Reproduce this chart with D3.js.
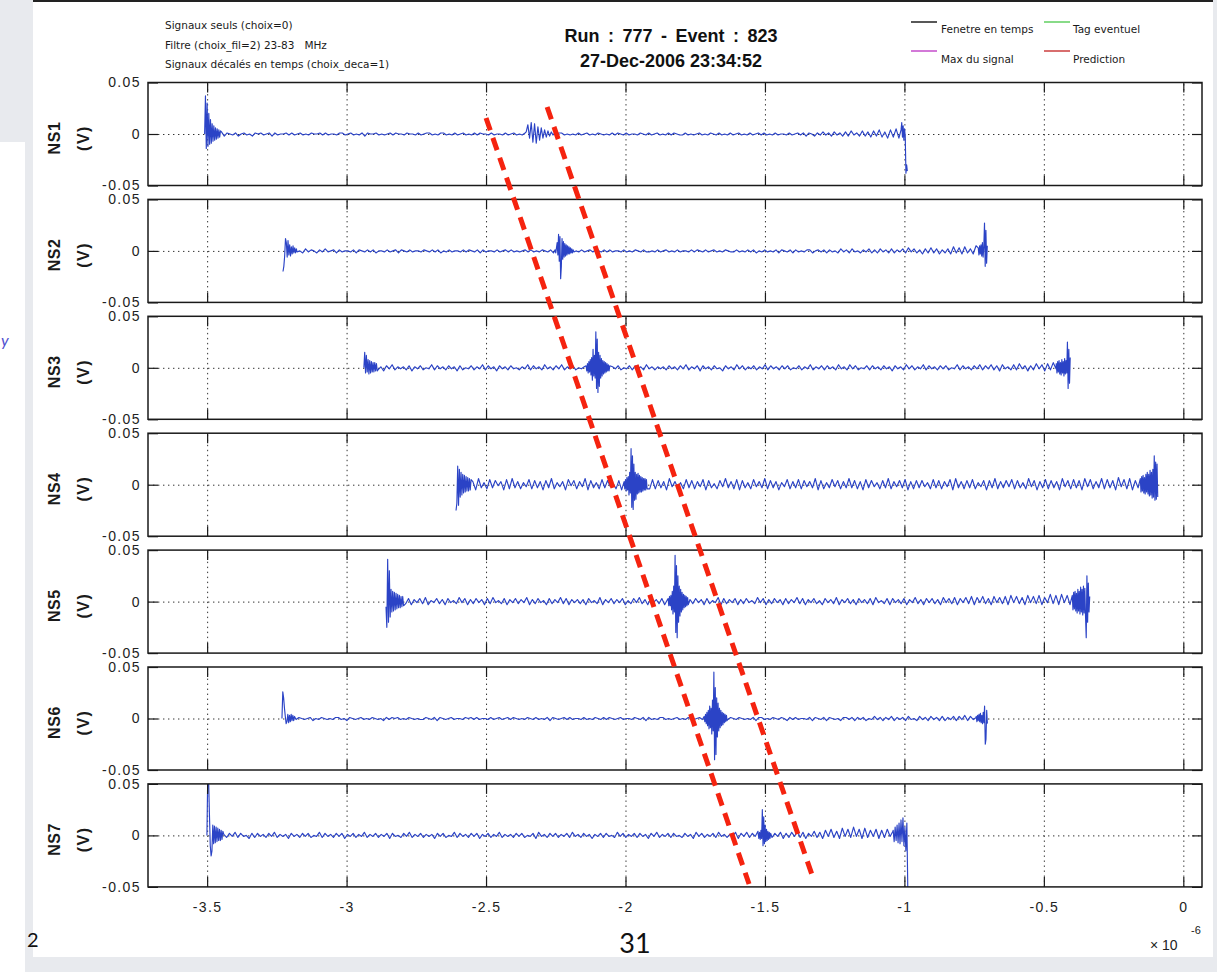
<!DOCTYPE html>
<html>
<head>
<meta charset="utf-8">
<script src="https://cdn.jsdelivr.net/npm/d3@7"></script>
<style>
  html, body { margin: 0; padding: 0; background: #e8eaee; }
  svg { display: block; }
  text { white-space: pre; }
</style>
</head>
<body>
<svg id="fig" width="1217" height="972"></svg>
<script>
// ---- axes ----
const stations = ["NS1", "NS2", "NS3", "NS4", "NS5", "NS6", "NS7"];
const xTicks = [-3.5, -3, -2.5, -2, -1.5, -1, -0.5, 0];          // x 1e-6 s
const xTickLabels = ["-3.5", "-3", "-2.5", "-2", "-1.5", "-1", "-0.5", "0"];
const yTicks = [-0.05, 0, 0.05];                                  // V
const yTickLabels = ["-0.05", "0", "0.05"];
const xDomain = [-3.712, 0.067];
const yDomain = [-0.05, 0.05];

// ---- recorded traces ----
// time window of each antenna trace (x 1e-6 s)
const windowStart = [-3.509, -3.228, -2.938, -2.6076, -2.8587, -3.2317, -3.5007];
const windowEnd   = [-0.9895, -0.7028, -0.4055, -0.0917, -0.3356, -0.7025, -0.9807];

// background samples in mV, evenly spread over the window;
// one character per sample: '0'..'9' = 0..9 mV, 'a'..'i' = -1..-9 mV
const noiseNS1 =
  "0b2a1a2b10" + "a1b01a0b10" + "1a01b1a001" + "a1a01a0a10" + "01a1a00a11" +
  "a01a0a1b10" + "01a0a01a10" + "0a100a1a01" + "1a0a11a0a1" + "a01a0a1a10" +
  "0a1a00a1a0" + "1a0a10a01a" + "a01a0a11a0" + "a0a1a01a0a" + "10a0a1a10a" +
  "1a00a10a1a" + "01a0a1a10a" + "a1a0a01a0a" + "10a1a0a1a0" + "1a0a1a01a1" +
  "a0a1a00a1a" + "01a1b10b1a" + "2a1b2a1b2b" + "3a1b3b2c3b" + "4c2d4c5d3c" + "5";
const noiseNS2 =
  "0a2b1a0b2a" + "10b1a2a01b" + "1a00a1b10a" + "1a1b00a1a0" + "1b10a1a00a" +
  "10a1a1b0a1" + "a00a1a10a1" + "b1a00a1a01" + "a1a0a01a1a" + "0a10a1b1a0" +
  "0a1a0a1a01" + "a10a1a1a00" + "a1a0a10a1a" + "a0a1a01a0a" + "1a00a1a10a" +
  "1a01a0a10a" + "a1a0a1a1b0" + "a1a0a1b10a" + "1b1a0a11b0" + "1a1b1a0b2a" +
  "1b2a0b1a2b" + "1b2a1b2b1a" + "2b3a2b1c2b" + "3b2c1b2c4b" + "3c4b2c5b4c" + "3";
const noiseNS3 =
  "2b3a1b1c2a" + "3b1a1b2c1a" + "2b0a3b2a1b" + "2a1c2b0a2b" + "1a3b2a1c2a" +
  "1b2a0b1a3b" + "2a1b3a1b2a" + "3b1a2b0a1b" + "2a1b3a2b1a" + "2b0a2b2a1b" +
  "3a1b1a1b2a" + "1b2a3b1a2c" + "2a1b2a0c2a" + "1b3a2b1a2b" + "1a3b2a1b2a" +
  "2b0a2b1a3b" + "1a2b2a1b3a" + "1b3a2b0a2b" + "2a1b2a1c2a" + "1b3a2b1a3b" +
  "2a1b2a2b0a" + "3b2a1b2a3b" + "2a3b2c3a1b" + "3b4a2c2b4a" + "3c4b5a4c3b" + "4";
const noiseNS4 =
  "4c1d5b3e6c" + "2d5c4a3e5d" + "6c3d2b5d4c" + "3e4c6d2b3e" + "5a4d3b6e4c" +
  "2d5c4b1d4e" + "6c3d5a4b2d" + "5d4c3e6b3c" + "2d5c4d3b5e" + "4c1d4b6c3d" +
  "5e4c2d5b3c" + "6d4c3e2b5d" + "3c5d4b3c6e" + "4d2c5b4d3c" + "6c4d3e5c4b" +
  "2d4c6d3b4c" + "5e3d4c4b2d" + "5c4d3b5e6c" + "3d4c5d2b4e" + "4c6d3c4b5d" +
  "4c2d6b4e3c" + "5d4c3e6b4d" + "5c4e6b5d3c" + "6d5c4e7b5d" + "6e4c7d6b5e" + "6";
const noiseNS5 =
  "3b2c4a1b3c" + "2a3b4c1a3b" + "2c3a1b4a3c" + "2b3a2c3b4a" + "1b3c2a3b2a" +
  "4c2b3a1c3b" + "2a4b3c2a2b" + "2c3a1b4c2a" + "3b2a3c1b3a" + "4b2c3a2b3c" +
  "2a3b1c4a2b" + "3a2c3b1a4c" + "3b2a3c2b3a" + "1b4a3c2b3a" + "2c3b2a4b3c" +
  "2a3b1c3a2b" + "4c2a3b2c3a" + "2b3c4a1b3c" + "3a2b3c2a4b" + "2c3a3b2c4a" +
  "3b4c3a4b5c" + "4a5b3c5a4b" + "5c6a5b4c6a" + "5b6c4a7b6c" + "7a6c7b8a7c" + "8";
const noiseNS6 =
  "1a1a0a10a0" + "1b0a10a0a1" + "1a0b10a01a" + "0a10a0b1a1" + "01a0a10a0a" +
  "a10a1b10a0" + "1a00a101a1" + "a00a1a01a0" + "1a10a0a10a" + "1a0a1b10a0" +
  "1a1a00a1a0" + "a10a1a10a0" + "1a00a10a1b" + "1a0a11a0a0" + "1a0a10a01a" +
  "1b1a00a1a1" + "0a10a0a1b1" + "1a0a10a10b" + "1a1a00a1b1" + "0a1b10a0b1" +
  "1a1b1a1b0a" + "2a1b1a2b1a" + "1b2a0b2a1b" + "2a1b2b1a2b" + "2a3b2a1b3a" + "2";
const noiseNS7 =
  "2b3a1c1b2a" + "3b2a0c2b2a" + "1b2a3b1a1c" + "2a1b2a2b0a" + "3b2a1b2a2c" +
  "1a2b1a3b1a" + "2b1a2c2a0b" + "2a3b1a2b1a" + "1c2a2b0a3b" + "2a1b2a2c1a" +
  "2b1a3b1a1b" + "2a2b0a2c3a" + "1b2a2b1a2b" + "3a1b2a1c1a" + "2b2a0b3a2b" +
  "1a2b2a1c2a" + "3b1a2b2a0b" + "2a1c3a2b1a" + "2b3a1b1a3c" + "2a3b2a4b3a" +
  "3b2a3c2b3a" + "4b3c2a4b3c" + "5a6b4c7a6b" + "8a6c7b5a6c" + "5b6a4c5b6a" + "5";
const noise = [noiseNS1, noiseNS2, noiseNS3, noiseNS4, noiseNS5, noiseNS6, noiseNS7];

// sharp pulses (start, shower signal, end): first sample time, step (x 1e-6 s), values (mV)
const burstsNS1 = [
  { t0: -3.509, dt: 0.003, v: [0, 37, -14, 30, -12, 20, -10, 14, -9, 10, -7, 8, -6, 6, -5, 5, -4, 4, -3, 3] },
  { t0: -2.356, dt: 0.006, v: [2, 9, -4, 11, -8, 10, -9, 7, -6, 6, -4, 4, -3, 3, -2, 2, -1] },
  { t0: -1.012, dt: 0.0025, v: [4, 11, -3, 8, -6, 5, -2, -38, -30, -36] }
];
const burstsNS2 = [
  { t0: -3.228, dt: 0.003, v: [-20, -15, -5, 12, 8, -6, 10, -4, 6, -5, 4, -3, 5, -2, 3, -2, 2] },
  { t0: -2.2525, dt: 0.0025, v: [1, -2, 3, 8, -4, 16, -10, 14, -27, -15, 12, -8, 9, -6, 7, -5, 6, -4, 5, -3, 4, -3, 3, -2, 2, -2, 1, -1] },
  { t0: -0.7353, dt: 0.0025, v: [3, -4, 5, -3, 6, -5, 8, -6, 4, 27, -15, 20, -12, 5] }
];
const burstsNS3 = [
  { t0: -2.938, dt: 0.003, v: [0, 15, -5, 12, -4, 8, -6, 7, -5, 6, -4, 5, -4, 5, -3, 4, -3] },
  { t0: -2.1413, dt: 0.0025, v: [2, -3, 4, -5, 6, -4, 8, -7, 10, -12, 18, -8, 12, -10, 35, -20, 28, -24, 15, -18, 12, -10, 9, -8, 7, -6, 6, -5, 5, -4, 4, -3, 3, -3, 2] },
  { t0: -0.4555, dt: 0.0025, v: [4, -5, 6, -4, 7, -6, 5, -7, 8, -5, 6, -8, 9, -6, 7, -5, 25, -20, 18, -15, 10] }
];
const burstsNS4 = [
  { t0: -2.6076, dt: 0.003, v: [-25, -18, 18, -20, 15, -12, 12, -10, 10, -8, 9, -7, 8, -6, 7, -6, 6, -5, 5] },
  { t0: -2.005, dt: 0.0025, v: [3, -4, 5, -6, 7, -5, 8, -10, 12, -8, 35, -22, 28, -24, 20, -15, 12, -14, 10, -9, 11, -8, 9, -7, 8, -7, 7, -6, 6, -5, 6, -5, 5, -4] },
  { t0: -0.1542, dt: 0.0025, v: [6, -7, 8, -6, 9, -8, 7, -9, 10, -7, 12, -9, 10, -11, 14, -10, 12, -13, 15, -12, 28, -15, 22, -14, 20, -12] }
];
const burstsNS5 = [
  { t0: -2.8587, dt: 0.003, v: [-5, -25, 41, -20, 30, -15, 12, -10, 10, -9, 9, -8, 8, -7, 7, -6, 6, -6, 5, -5, 5, -4] },
  { t0: -1.8472, dt: 0.0025, v: [3, -4, 5, -4, 6, -8, 10, -12, 15, -10, 45, -30, 35, -35, 25, -20, 15, -14, 12, -10, 9, -8, 7, -6, 6, -5, 5, -4, 4, -3] },
  { t0: -0.3981, dt: 0.0025, v: [6, -8, 9, -7, 10, -9, 8, -11, 12, -9, 10, -12, 14, -10, 12, -13, 15, -11, 13, -14, -35, 25, -20, 18, -10, 5] }
];
const burstsNS6 = [
  { t0: -3.2317, dt: 0.003, v: [0, 26, 20, 10, 2, -5, -3, 4, -4, 3, -3, 4, -2, 3, -2, 2] },
  { t0: -1.7181, dt: 0.0025, v: [2, -3, 4, -5, 6, -7, 8, -10, 12, -9, 10, -15, 18, -12, 45, -40, 30, -35, 20, -18, 15, -12, 10, -9, 8, -7, 6, -6, 5, -4, 4, -3, 3, -2] },
  { t0: -0.7425, dt: 0.0025, v: [2, -3, 3, -2, 4, -3, 5, -4, 3, -5, 6, -4, 12, -25, -20, 8, -5] }
];
const burstsNS7 = [
  { t0: -3.5007, dt: 0.003, v: [0, 60, 55, 20, -10, -20, -15, 10, -8, 9, -7, 8, -6, 7, -5, 6, -5, 5, -4, 4] },
  { t0: -1.5244, dt: 0.0025, v: [2, -3, 3, -4, 5, -3, 25, -10, 18, -8, 10, -6, 6, -5, 4, -4, 3, -3, 2] },
  { t0: -1.0402, dt: 0.0035, v: [5, -6, 8, -5, 10, -7, 12, -8, 15, -6, 17, -10, 8, -15, 12, -55, -60, -58] }
];
const bursts = [burstsNS1, burstsNS2, burstsNS3, burstsNS4, burstsNS5, burstsNS6, burstsNS7];

// hand-drawn arrival-time guide lines: (time x 1e-6 s, station row)
const guideA = [[-2.500, -0.137], [-1.557, 6.416]];
const guideB = [[-2.281, -0.231], [-1.331, 6.339]];

// header texts
const infoLines = ["Signaux seuls (choix=0)", "Filtre (choix_fil=2) 23-83   MHz", "Signaux décalés en temps (choix_deca=1)"];
const titleLines = ["Run : 777 - Event : 823", "27-Dec-2006 23:34:52"];
const legendItems = [
  { label: "Fenetre en temps", color: "#111111" },
  { label: "Tag eventuel", color: "#55cc55" },
  { label: "Max du signal", color: "#c040c8" },
  { label: "Prediction", color: "#c83030" }
];

// ---- drawing ----
const W = 1217, H = 972;
const svg = d3.select("#fig");
const defs = svg.append("defs");

// slide backdrop and figure sheet
svg.append("rect").attr("width", W).attr("height", H).attr("fill", "#e8eaee");
svg.append("rect").attr("x", 33).attr("y", 0).attr("width", 1180).attr("height", 957).attr("fill", "#ffffff");
svg.append("rect").attr("x", 0).attr("y", 142).attr("width", 25).attr("height", 830).attr("fill", "#ffffff");
svg.append("rect").attr("x", 33).attr("y", 0).attr("width", 1180).attr("height", 2).attr("fill", "#222");

const plotLeft = 148, plotRight = 1202;
const firstTop = 82.5, rowStep = 116.9, panelH = 103;
const x = d3.scaleLinear().domain(xDomain).range([plotLeft, plotRight]);
const y = d3.scaleLinear().domain(yDomain).range([panelH, 0]);

const tickFont = "'Liberation Sans', Arial, sans-serif";

function decode(ch) {
  const c = ch.charCodeAt(0);
  return (c >= 48 && c <= 57) ? c - 48 : -(c - 96);
}

function buildTrace(i) {
  const str = noise[i];
  const n = str.length;
  const t0 = windowStart[i], t1 = windowEnd[i];
  const spans = bursts[i].map(b => [b.t0, b.t0 + b.dt * (b.v.length - 1)]);
  const pts = [];
  for (let k = 0; k < n; k++) {
    const t = t0 + (t1 - t0) * k / (n - 1);
    if (spans.some(s => t >= s[0] - 1e-9 && t <= s[1] + 1e-9)) continue;
    pts.push({ t, v: decode(str[k]) / 1000 });
  }
  bursts[i].forEach(b => b.v.forEach((mv, k) => pts.push({ t: b.t0 + b.dt * k, v: mv / 1000 })));
  pts.sort((a, b) => a.t - b.t);
  return pts;
}

const line = d3.line().x(d => x(d.t)).y(d => y(d.v));

function styleTicks(sel) {
  sel.select(".domain").remove();
  sel.selectAll(".tick line").attr("stroke", "#1a1a1a").attr("stroke-width", 1.2);
  sel.selectAll("text").attr("font-family", tickFont).attr("font-size", 14)
     .attr("fill", "#222").attr("letter-spacing", 1.4);
}

stations.forEach((name, i) => {
  const top = firstTop + i * rowStep;
  const g = svg.append("g").attr("transform", `translate(0,${top})`);

  defs.append("clipPath").attr("id", "clip" + i)
    .append("rect").attr("x", plotLeft).attr("y", 0)
    .attr("width", plotRight - plotLeft).attr("height", panelH);

  // dotted grid
  const gx = g.append("g").attr("transform", `translate(0,${panelH})`)
    .call(d3.axisBottom(x).tickValues(xTicks).tickSize(-panelH).tickFormat(""));
  gx.select(".domain").remove();
  gx.selectAll(".tick line").attr("stroke", "#333").attr("stroke-width", 1).attr("stroke-dasharray", "1.4,3.6");
  const gy = g.append("g").attr("transform", `translate(${plotLeft},0)`)
    .call(d3.axisLeft(y).tickValues([0]).tickSize(-(plotRight - plotLeft)).tickFormat(""));
  gy.select(".domain").remove();
  gy.selectAll(".tick line").attr("stroke", "#333").attr("stroke-width", 1).attr("stroke-dasharray", "1.4,3.6");

  // antenna trace
  g.append("path").datum(buildTrace(i))
    .attr("clip-path", `url(#clip${i})`)
    .attr("fill", "none").attr("stroke", "#2b43c6").attr("stroke-width", 1.15)
    .attr("stroke-linejoin", "round").attr("d", line);

  // inward ticks on all four sides
  const isLast = i === stations.length - 1;
  const bottom = g.append("g").attr("transform", `translate(0,${panelH})`)
    .call(d3.axisBottom(x).tickValues(xTicks).tickSizeInner(-10).tickSizeOuter(0).tickPadding(15)
      .tickFormat(isLast ? (d, k) => xTickLabels[k] : ""));
  styleTicks(bottom);
  const topAx = g.append("g")
    .call(d3.axisTop(x).tickValues(xTicks).tickSizeInner(-10).tickSizeOuter(0).tickFormat(""));
  styleTicks(topAx);
  const left = g.append("g").attr("transform", `translate(${plotLeft},0)`)
    .call(d3.axisLeft(y).tickValues(yTicks).tickSizeInner(-10).tickSizeOuter(0).tickPadding(7)
      .tickFormat((d, k) => yTickLabels[k]));
  styleTicks(left);
  const right = g.append("g").attr("transform", `translate(${plotRight},0)`)
    .call(d3.axisRight(y).tickValues(yTicks).tickSizeInner(-10).tickSizeOuter(0).tickFormat(""));
  styleTicks(right);

  // box
  g.append("rect").attr("x", plotLeft).attr("y", 0)
    .attr("width", plotRight - plotLeft).attr("height", panelH)
    .attr("fill", "none").attr("stroke", "#1a1a1a").attr("stroke-width", 1.5);

  // y label (two lines)
  const cy = panelH / 2 + 4;
  g.append("text").attr("transform", `translate(60,${cy}) rotate(-90)`)
    .attr("text-anchor", "middle").attr("font-family", tickFont).attr("font-weight", "bold")
    .attr("font-size", 16).attr("letter-spacing", 0.6).attr("fill", "#1a1a1a").text(name);
  g.append("text").attr("transform", `translate(89,${cy}) rotate(-90)`)
    .attr("text-anchor", "middle").attr("font-family", tickFont).attr("font-weight", "bold")
    .attr("font-size", 16).attr("letter-spacing", 1.5).attr("fill", "#1a1a1a").text("(V)");
});

// axis multiplier
svg.append("text").attr("x", 1150).attr("y", 950).attr("font-family", tickFont)
  .attr("font-size", 14).attr("fill", "#222").text("× 10");
svg.append("text").attr("x", 1191).attr("y", 934).attr("font-family", tickFont)
  .attr("font-size", 11).attr("fill", "#222").text("-6");

// info text (top left)
svg.selectAll("text.info").data(infoLines).join("text").attr("class", "info")
  .attr("x", 165).attr("y", (d, k) => 29 + k * 19.5)
  .attr("font-family", "'DejaVu Sans', sans-serif").attr("font-size", 10.5)
  .attr("fill", "#1a1a1a").text(d => d);

// title
svg.selectAll("text.title").data(titleLines).join("text").attr("class", "title")
  .attr("x", 671).attr("y", (d, k) => 42 + k * 25)
  .attr("text-anchor", "middle").attr("font-family", tickFont).attr("font-weight", "bold")
  .attr("font-size", 18).attr("word-spacing", (d, k) => k === 0 ? 3.5 : 0)
  .attr("fill", "#111").text(d => d);

// legend (2 x 2)
const legendPos = [[911, 22, 941, 33], [1044, 22, 1073, 33], [911, 51, 941, 63], [1044, 51, 1073, 63]];
legendItems.forEach((it, k) => {
  const [lx, ly, tx, ty] = legendPos[k];
  svg.append("line").attr("x1", lx).attr("x2", lx + 26).attr("y1", ly).attr("y2", ly)
    .attr("stroke", it.color).attr("stroke-width", 1.4);
  svg.append("text").attr("x", tx).attr("y", ty)
    .attr("font-family", "'DejaVu Sans', sans-serif").attr("font-size", 10.5)
    .attr("fill", "#1a1a1a").text(it.label);
});

// arrival-time guides across the stations
const rowY = d3.scaleLinear().domain([0, 6])
  .range([firstTop + panelH / 2, firstTop + 6 * rowStep + panelH / 2]);
[guideA, guideB].forEach(gd => {
  svg.append("path").datum(gd)
    .attr("d", d3.line().x(d => x(d[0])).y(d => rowY(d[1])))
    .attr("fill", "none").attr("stroke", "#f5230f").attr("stroke-width", 5)
    .attr("stroke-dasharray", "13,8");
});

// slide page number and stray slide glyphs
svg.append("text").attr("x", 635).attr("y", 953).attr("text-anchor", "middle")
  .attr("font-family", "Lato, sans-serif").attr("font-size", 27).attr("fill", "#111").text("31");
svg.append("text").attr("x", 27).attr("y", 947)
  .attr("font-family", "Lato, sans-serif").attr("font-size", 20).attr("fill", "#111").text("2");
svg.append("text").attr("x", 1).attr("y", 346)
  .attr("font-family", "Lato, sans-serif").attr("font-style", "italic").attr("font-size", 16)
  .attr("fill", "#5050d0").text("y");
</script>
</body>
</html>
